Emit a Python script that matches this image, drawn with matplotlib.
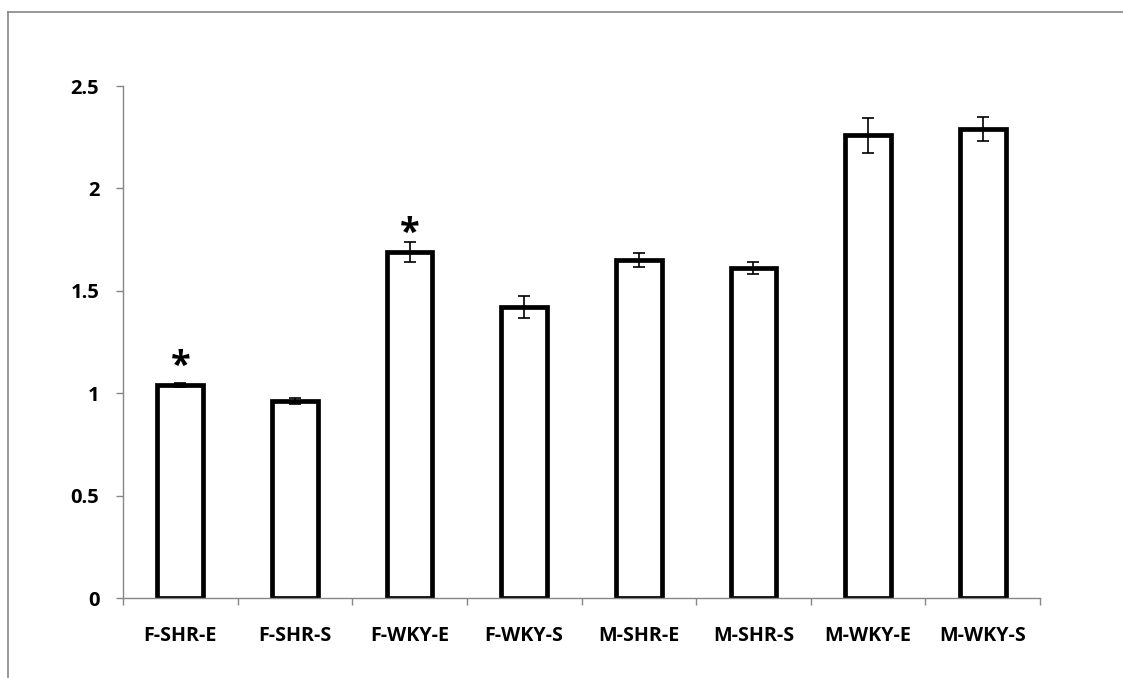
import matplotlib
matplotlib.use("Agg")
import matplotlib.pyplot as plt
from matplotlib.lines import Line2D
import numpy as np

categories = ["F-SHR-E", "F-SHR-S", "F-WKY-E", "F-WKY-S",
              "M-SHR-E", "M-SHR-S", "M-WKY-E", "M-WKY-S"]
values = [1.04, 0.96, 1.69, 1.42, 1.65, 1.61, 2.26, 2.29]
errors = [0.01, 0.015, 0.05, 0.053, 0.035, 0.03, 0.085, 0.06]
significant = [True, False, True, False, False, False, False, False]
yticks = [0, 0.5, 1, 1.5, 2, 2.5]
ytick_labels = ["0", "0.5", "1", "1.5", "2", "2.5"]

plt.rcParams['font.family'] = ['Open Sans', 'DejaVu Sans']
gray = "#868686"

fig = plt.figure(figsize=(11.23, 6.78), dpi=100)
ax = fig.add_axes([123/1123, 80/678, (1040-123)/1123, (598-86)/678])

x = np.arange(len(categories))
ax.bar(x, values, width=0.40, facecolor="white", edgecolor="black",
       linewidth=3.4, zorder=2)
ax.errorbar(x, values, yerr=errors, fmt="none", ecolor="black",
            elinewidth=1.2, capsize=4.5, capthick=1.2, zorder=3)
for xi, v, s in zip(x, values, significant):
    if s:
        ax.text(xi, v + 0.045, "*", ha="center", va="baseline",
                fontsize=26, fontweight="bold", color="black")

ax.set_xlim(-0.5, len(categories) - 0.5)
ax.set_ylim(0, 2.5)
ax.set_yticks(yticks)
ax.set_yticklabels(ytick_labels)
ax.set_xticks(x)
ax.set_xticklabels(categories)
ax.set_xticks(np.arange(-0.5, len(categories), 1.0), minor=True)

for sp in ["top", "right"]:
    ax.spines[sp].set_visible(False)
for sp in ["left", "bottom"]:
    ax.spines[sp].set_color(gray)
    ax.spines[sp].set_linewidth(1.0)
    ax.spines[sp].set_zorder(5)

ax.tick_params(axis="y", direction="out", length=5, width=1.0, color=gray,
               pad=12, labelsize=14.5)
ax.tick_params(axis="x", which="major", length=0, pad=20, labelsize=14.2)
ax.tick_params(axis="x", which="minor", direction="out", length=5,
               width=1.0, color=gray)
for lab in ax.get_xticklabels() + ax.get_yticklabels():
    lab.set_fontweight("bold")

# outer chart frame
fig.add_artist(Line2D([8/1123, 8/1123], [0, 1 - 11.5/678], color=gray,
                      linewidth=1.2, transform=fig.transFigure))
fig.add_artist(Line2D([8/1123, 1], [1 - 11.5/678, 1 - 11.5/678], color=gray,
                      linewidth=1.2, transform=fig.transFigure))

fig.savefig("out.png", dpi=100, facecolor="white")
